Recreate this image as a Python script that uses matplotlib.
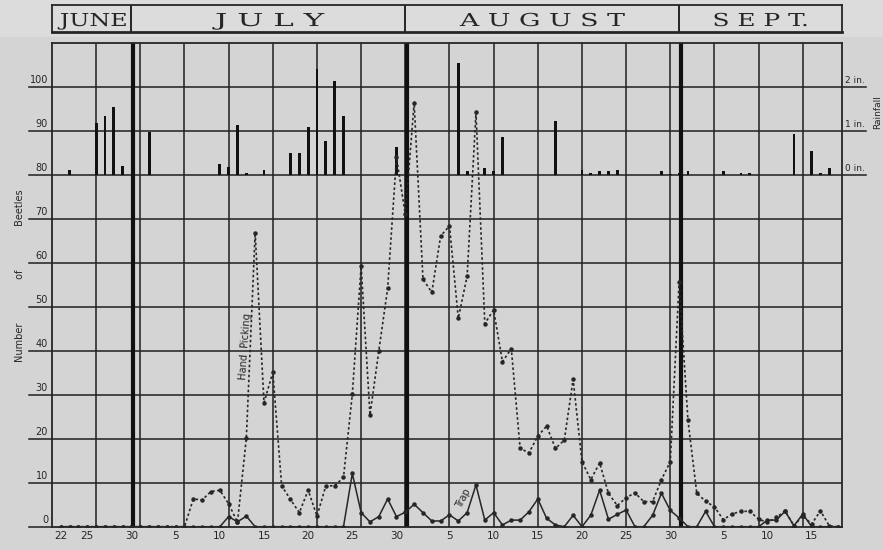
import matplotlib.pyplot as plt
from matplotlib.patches import Rectangle, PathPatch
from matplotlib.textpath import TextPath
from matplotlib.font_manager import FontProperties
import matplotlib.transforms as mtransforms

# day numbers counted from June 1 (June 30 = 30, July 31 = 61, Aug 31 = 92)
days = list(range(22, 111))

hand_picking = [0] * 15 + [
    6.3, 6.1, 8.0, 8.3, 5.2, 1.0, 20.1, 66.9, 28.2, 35.1,      # Jul 7 - 16
    9.3, 6.2, 3.2, 8.3, 2.4, 9.3, 9.3, 11.2, 30.1, 59.3,       # Jul 17 - 26
    25.4, 40.0, 54.2, 84.0, 71.0, 96.4, 56.3, 53.3, 66.1, 68.4,  # Jul 27 - Aug 5
    47.4, 57.0, 94.2, 46.2, 49.3, 37.5, 40.5, 17.8, 16.8, 20.6,  # Aug 6 - 15
    22.9, 17.8, 19.7, 33.5, 14.8, 10.7, 14.5, 7.6, 4.8, 6.6,   # Aug 16 - 25
    7.7, 5.7, 5.7, 10.7, 14.8, 55.7, 24.2, 7.6, 5.8, 4.5,      # Aug 26 - Sep 4
    1.6, 2.9, 3.5, 3.5, 1.7, 1.0, 2.1, 3.6, 0.2, 2.5,          # Sep 5 - 14
    0.6, 3.6, 0.2, 0.0,                                         # Sep 15 - 18
]

trap = [0] * 19 + [
    2.3, 1.1, 2.4, 0, 0, 0, 0, 0, 0, 0,                        # Jul 11 - 20
    0, 0, 0, 0, 12.1, 3.2, 1.1, 2.3, 6.3, 2.3,                 # Jul 21 - 30
    3.3, 5.1, 3.2, 1.3, 1.3, 2.7, 1.3, 3.2, 9.5, 1.5,          # Jul 31 - Aug 9
    3.2, 0.4, 1.5, 1.5, 3.4, 6.3, 1.9, 0.4, 0, 2.6,            # Aug 10 - 19
    0, 2.6, 8.3, 1.7, 2.8, 3.8, 0, 0, 2.6, 7.6,                # Aug 20 - 29
    3.7, 2.0, 0, 0, 3.5, 0, 0, 0, 0, 0,                        # Aug 30 - Sep 8
    0, 1.5, 1.5, 3.5, 0.2, 2.9, 0, 0, 0, 0,                    # Sep 9 - 18
]

# rainfall in inches
rain_days = [23, 26, 27, 28, 29, 32, 40, 41, 42, 43, 45, 48, 49, 50, 51, 52, 53, 54,
             60, 67, 68, 70, 71, 72, 78, 81, 82, 83, 84, 85, 90, 91, 92, 93,
             97, 99, 100, 105, 107, 108, 109]
rain_inches = [0.12, 1.19, 1.33, 1.55, 0.20, 0.98, 0.24, 0.18, 1.13, 0.05, 0.12, 0.49, 0.49,
               1.09, 2.42, 0.77, 2.14, 1.33, 0.64, 2.55, 0.09, 0.15, 0.09, 0.86, 1.23,
               0.12, 0.05, 0.09, 0.09, 0.11, 0.09, 0.02, 0.05, 0.10,
               0.10, 0.04, 0.04, 0.93, 0.55, 0.04, 0.15]

months = ['JUNE', 'J U L Y', 'A U G U S T', 'S E P T.']
month_ends = [30, 61, 92]

tick_days = [22, 25, 30, 35, 40, 45, 50, 55, 60, 66, 71, 76, 81, 86, 91, 97, 102, 107]
tick_labels = ['22', '25', '30', '5', '10', '15', '20', '25', '30',
               '5', '10', '15', '20', '25', '30', '5', '10', '15']

beetle_ticks = list(range(0, 101, 10))
rain_ticks = [0, 1, 2]

ink = '#262626'
paper = '#d4d4d4'

W, H = 883, 550
fig = plt.figure(figsize=(W / 100, H / 100), dpi=100, facecolor=paper)
fig.patches.append(Rectangle((0, 1 - 37 / H), 1, 37 / H, transform=fig.transFigure,
                             facecolor='#dcdcdc', edgecolor='none', zorder=-5))

x0, x1 = 21.0, 110.44
ax = fig.add_axes([52 / W, 1 - 526.7 / H, 790 / W, 483.7 / H])
ax.set_facecolor(paper)
ax.set_xlim(x0, x1)
ax.set_ylim(0, 110)

# сетка
for d in range(26, 111, 5):
    ax.axvline(d, color=ink, lw=1.15, zorder=1)
for v in range(10, 110, 10):
    ax.axhline(v, color=ink, lw=1.15, zorder=1)
for m in month_ends:
    ax.axvline(m + 0.2, color='#111111', lw=3, zorder=2)
for s in ax.spines.values():
    s.set_color(ink)
    s.set_linewidth(1.3)

# осадки: 1 дюйм = 10 делений над линией 80
ax.bar(rain_days, [r * 10 for r in rain_inches], bottom=80, width=0.32,
       color='#111111', zorder=3)

ax.plot(days, hand_picking, color=ink, lw=1.2, ls=(0, (1.5, 1.5)),
        marker='o', ms=2.2, zorder=4)
ax.plot(days, trap, color=ink, lw=1.1, marker='o', ms=2.2, zorder=4)

ax.text(42.9, 41, 'Hand  Picking', rotation=86, fontsize=7, color=ink,
        ha='center', va='center')
ax.text(67.6, 6.5, 'Trap', rotation=62, fontsize=7, color=ink,
        ha='center', va='center')

# подписи осей
ax.set_xticks(tick_days, tick_labels)
ax.set_yticks([])
ax.tick_params(axis='x', length=0, pad=3, labelsize=7.5, colors=ink)

ytr = ax.get_yaxis_transform()
for v in beetle_ticks:
    ax.plot([-0.029, 0], [v, v], transform=ytr, color=ink, lw=1.15, clip_on=False)
    ax.text(-0.005, v + 0.5, str(v), transform=ytr, ha='right', va='bottom',
            fontsize=7, color=ink)
for r in rain_ticks:
    v = 80 + r * 10
    ax.plot([1, 1.03], [v, v], transform=ytr, color=ink, lw=1.15, clip_on=False)
    ax.text(1.004, v + 0.5, f'{r} in.', transform=ytr, ha='left', va='bottom',
            fontsize=6.5, color=ink)

fig.text(20 / W, 1 - 276 / H, 'Number              of              Beetles', rotation=90,
         ha='center', va='center', fontsize=7, color=ink)
fig.text(878 / W, 1 - 112 / H, 'Rainfall', rotation=90,
         ha='center', va='center', fontsize=6.5, color=ink)

# шапка с месяцами
hx = fig.add_axes([52 / W, 1 - 32 / H, 790 / W, 27 / H], zorder=3)
hx.set_xlim(x0, x1)
hx.set_ylim(0, 1)
hx.patch.set_alpha(0)
hx.set_xticks([])
hx.set_yticks([])
for s in hx.spines.values():
    s.set_color(ink)
    s.set_linewidth(1.3)
hx.spines['bottom'].set_linewidth(2)
for m in month_ends:
    hx.axvline(m, color=ink, lw=1.4)

# широкие буквы: растягиваем контур текста по горизонтали
fp = FontProperties(family='DejaVu Serif')
cap_h = TextPath((0, 0), 'E', size=20, prop=fp).get_extents().height
bounds = [x0] + month_ends + [x1]
widths_px = [68, 112, 165, 92]
cap_px = 13
for i, name in enumerate(months):
    tp = TextPath((0, 0), name, size=20, prop=fp)
    bb = tp.get_extents()
    sx = widths_px[i] / bb.width
    sy = cap_px / cap_h
    cx_data = (bounds[i] + bounds[i + 1]) / 2
    cx = hx.transData.transform((cx_data, 0))[0]
    baseline = H - 26
    tr = (mtransforms.Affine2D()
          .translate(-bb.x0 - bb.width / 2, 0)
          .scale(sx, sy)
          .translate(cx, baseline))
    fig.patches.append(PathPatch(tr.transform_path(tp), transform=mtransforms.IdentityTransform(),
                                 facecolor=ink, edgecolor='none', zorder=5))

fig.savefig('out.png', dpi=100, facecolor=fig.get_facecolor())
